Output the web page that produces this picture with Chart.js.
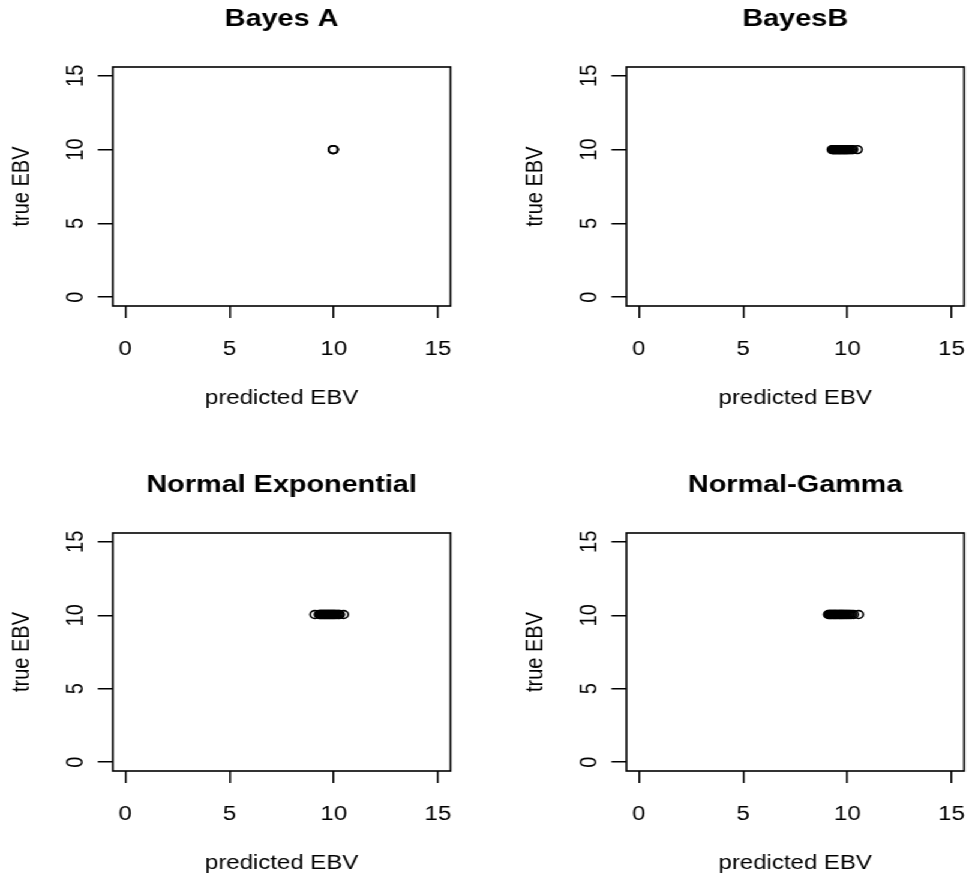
<!DOCTYPE html>
<html>
<head>
<meta charset="utf-8">
<script src="https://cdn.jsdelivr.net/npm/chart.js@4"></script>
<style>
  body { margin: 0; background: #fff; overflow: hidden; }
  /* the original image is stretched sideways, so the whole stage is too */
  #stage { position: relative; width: 808.33px; height: 876px; transform: scaleX(1.2); transform-origin: 0 0; }
  #stage canvas { position: absolute; }
</style>
</head>
<body>
<div id="stage">
  <canvas id="p1" width="381" height="410" style="left:0px;top:0px"></canvas>
  <canvas id="p2" width="381" height="410" style="left:428px;top:0px"></canvas>
  <canvas id="p3" width="381" height="409" style="left:0px;top:466px"></canvas>
  <canvas id="p4" width="381" height="409" style="left:428px;top:466px"></canvas>
</div>
<script>
const tickValues = [0, 5, 10, 15];
const axisMin = -0.6;
const axisMax = 15.6;
const xTitle = 'predicted EBV';
const yTitle = 'true EBV';

const bayesAPred = [9.97, 9.98, 9.98];
const bayesATrue = [10, 10, 10];

const bayesBPred = [9.27, 9.31, 9.34, 9.38, 9.42, 9.45, 9.49, 9.53, 9.57, 9.6, 9.64, 9.68, 9.71,
  9.75, 9.79, 9.83, 9.86, 9.9, 9.94, 9.98, 10.02, 10.07, 10.13, 10.2, 10.27, 10.48];
const bayesBTrue = [10, 10, 10, 10, 10, 10, 10, 10, 10, 10, 10, 10, 10,
  10, 10, 10, 10, 10, 10, 10, 10, 10, 10, 10, 10, 10];

const normExpPred = [9.09, 9.3, 9.34, 9.38, 9.42, 9.46, 9.5, 9.54, 9.58, 9.62, 9.66, 9.7, 9.74,
  9.78, 9.82, 9.86, 9.9, 9.94, 9.98, 10.02, 10.06, 10.11, 10.17, 10.23, 10.28, 10.47];
const normExpTrue = [10.05, 10.05, 10.05, 10.05, 10.05, 10.05, 10.05, 10.05, 10.05, 10.05, 10.05, 10.05, 10.05,
  10.05, 10.05, 10.05, 10.05, 10.05, 10.05, 10.05, 10.05, 10.05, 10.05, 10.05, 10.05, 10.05];

const normGamPred = [9.09, 9.13, 9.17, 9.21, 9.25, 9.3, 9.34, 9.38, 9.42, 9.46, 9.5, 9.55, 9.6, 9.64,
  9.68, 9.72, 9.76, 9.8, 9.85, 9.9, 9.95, 10.0, 10.06, 10.12, 10.2, 10.3, 10.54];
const normGamTrue = [10.05, 10.05, 10.05, 10.05, 10.05, 10.05, 10.05, 10.05, 10.05, 10.05, 10.05, 10.05, 10.05, 10.05,
  10.05, 10.05, 10.05, 10.05, 10.05, 10.05, 10.05, 10.05, 10.05, 10.05, 10.05, 10.05, 10.05];

Chart.defaults.font.family = "'Liberation Sans', Arial, Helvetica, sans-serif";
Chart.defaults.color = '#000';

// R-style frame around the plot region
const boxPlugin = {
  id: 'box',
  afterDraw(chart) {
    const {ctx, chartArea: a} = chart;
    ctx.save();
    ctx.strokeStyle = '#000';
    ctx.lineWidth = 1.6;
    ctx.strokeRect(a.left, a.top, a.right - a.left, a.bottom - a.top);
    ctx.restore();
  }
};

function fixedTicks(scale) {
  scale.ticks = tickValues.map(v => ({value: v}));
}

function makePanel(id, title, xs, ys) {
  new Chart(document.getElementById(id), {
    type: 'scatter',
    data: {
      datasets: [{
        data: xs.map((x, i) => ({x: x, y: ys[i]})),
        pointStyle: 'circle',
        pointRadius: 3.9,
        pointBorderWidth: 1.6,
        pointBorderColor: '#000',
        pointBackgroundColor: 'rgba(0,0,0,0)'
      }]
    },
    options: {
      responsive: false,
      animation: false,
      layout: { padding: { left: 0, right: 3, top: 0, bottom: 0 } },
      plugins: {
        legend: { display: false },
        tooltip: { enabled: false },
        title: {
          display: true,
          fullSize: false, // centre over the plot box, like R
          text: title,
          font: { size: 24, weight: 'bold' },
          padding: { top: 5, bottom: 33.2 }
        }
      },
      scales: {
        x: {
          type: 'linear',
          min: axisMin,
          max: axisMax,
          afterBuildTicks: fixedTicks,
          afterFit(scale) {
            scale.height = 104;
            scale.paddingLeft = 0;
            scale.paddingRight = 0;
          },
          border: { display: false },
          grid: { drawOnChartArea: false, drawTicks: true, tickLength: 12, color: '#000', lineWidth: 1.5 },
          ticks: { font: { size: 20 }, padding: 19, maxRotation: 0 },
          title: { display: true, text: xTitle, font: { size: 20 }, padding: { top: 0, bottom: 0 } }
        },
        y: {
          type: 'linear',
          min: axisMin,
          max: axisMax,
          afterBuildTicks: fixedTicks,
          afterFit(scale) {
            scale.width = 94;
            scale.paddingTop = 0;
            scale.paddingBottom = 0;
          },
          border: { display: false },
          grid: { drawOnChartArea: false, drawTicks: true, tickLength: 12.5, color: '#000', lineWidth: 1.5 },
          ticks: { font: { size: 20 }, padding: 7, minRotation: 90, maxRotation: 90, crossAlign: 'center' },
          title: { display: true, text: yTitle, font: { size: 20 }, padding: { top: 6, bottom: 0 } }
        }
      }
    },
    plugins: [boxPlugin]
  });
}

makePanel('p1', 'Bayes A', bayesAPred, bayesATrue);
makePanel('p2', 'BayesB', bayesBPred, bayesBTrue);
makePanel('p3', 'Normal Exponential', normExpPred, normExpTrue);
makePanel('p4', 'Normal-Gamma', normGamPred, normGamTrue);
</script>
</body>
</html>
